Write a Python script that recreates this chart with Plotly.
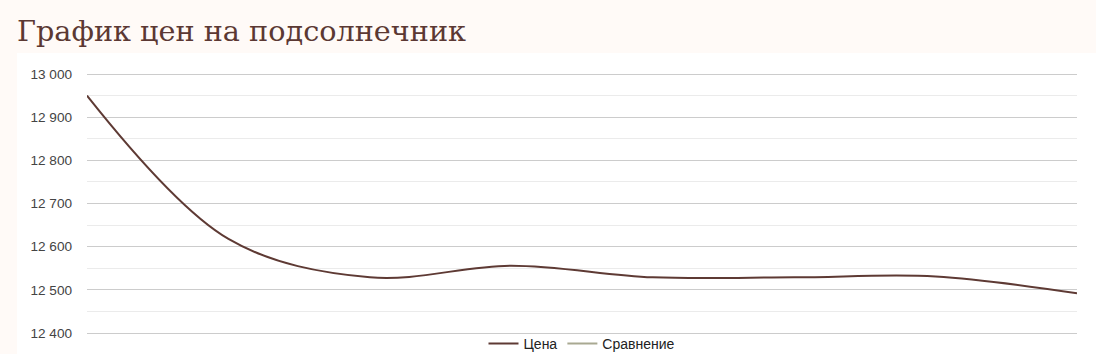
import plotly.graph_objects as go

categories = ["1", "2", "3", "4", "5", "6", "7", "8"]
price = [12950, 12618, 12529, 12556, 12529, 12529, 12531, 12492]
compare = [None] * len(categories)
y_ticks = [12400, 12500, 12600, 12700, 12800, 12900, 13000]

W, H = 1096, 354
L, R, T, B = 87, 19, 72, 19
pw, ph = W - L - R, H - T - B
k = 259 / 600  # px per unit between 13 000 (y=74) and 12 400 (y=333)
y_lo = 12400 - 2 / k
y_hi = 13000 + 2 / k

def px_x(p):
    return (p - L) / pw

def px_y(p):
    return (H - B - p) / ph

fig = go.Figure()
fig.add_trace(go.Scatter(
    x=list(range(len(categories))), y=price, name="Цена", mode="lines",
    line=dict(color="#5e3a34", width=2, shape="spline", smoothing=1.0),
    hoverinfo="skip"))
fig.add_trace(go.Scatter(
    x=list(range(len(categories))), y=compare, name="Сравнение", mode="lines",
    line=dict(color="#a9a992", width=2), hoverinfo="skip"))

fig.update_layout(
    width=W, height=H,
    margin=dict(l=L, r=R, t=T, b=B, pad=0, autoexpand=False),
    paper_bgcolor="#fffaf7",
    plot_bgcolor="rgba(0,0,0,0)",
    separators=", ",
    font=dict(family="Liberation Sans, Arial, sans-serif", size=13, color="#333333"),
    title=dict(text="График цен на подсолнечник", xref="container", yref="container",
               x=17 / W, xanchor="left", y=1 - 31 / H, yanchor="middle",
               font=dict(family="DejaVu Serif, serif", size=28.7, color="#5b3833")),
    showlegend=True,
    legend=dict(orientation="h", x=0.5, xanchor="center", yref="container",
                y=10 / H, yanchor="middle",
                bgcolor="rgba(0,0,0,0)", font=dict(size=14, color="#222222"),
                itemwidth=30, tracegroupgap=0),
    shapes=[dict(type="rect", xref="paper", yref="paper", layer="below",
                 x0=px_x(17), x1=px_x(W + 5), y0=px_y(H + 5), y1=px_y(53),
                 fillcolor="#ffffff", line=dict(width=0))],
)
fig.update_xaxes(range=[0, len(categories) - 1], showticklabels=False, showgrid=False,
                 zeroline=False, showline=False, ticks="",
                 tickvals=list(range(len(categories))), ticktext=categories)
fig.update_yaxes(range=[y_lo, y_hi], tickvals=y_ticks, tickformat=",d",
                 showgrid=True, gridcolor="#cccccc", gridwidth=1, zeroline=False,
                 showline=False, ticks="", ticklabelstandoff=14,
                 tickfont=dict(size=13.6, color="#444444"),
                 minor=dict(dtick=50, tick0=12400, showgrid=True, gridcolor="#ebebeb", gridwidth=1))

fig.write_html("out.html")
